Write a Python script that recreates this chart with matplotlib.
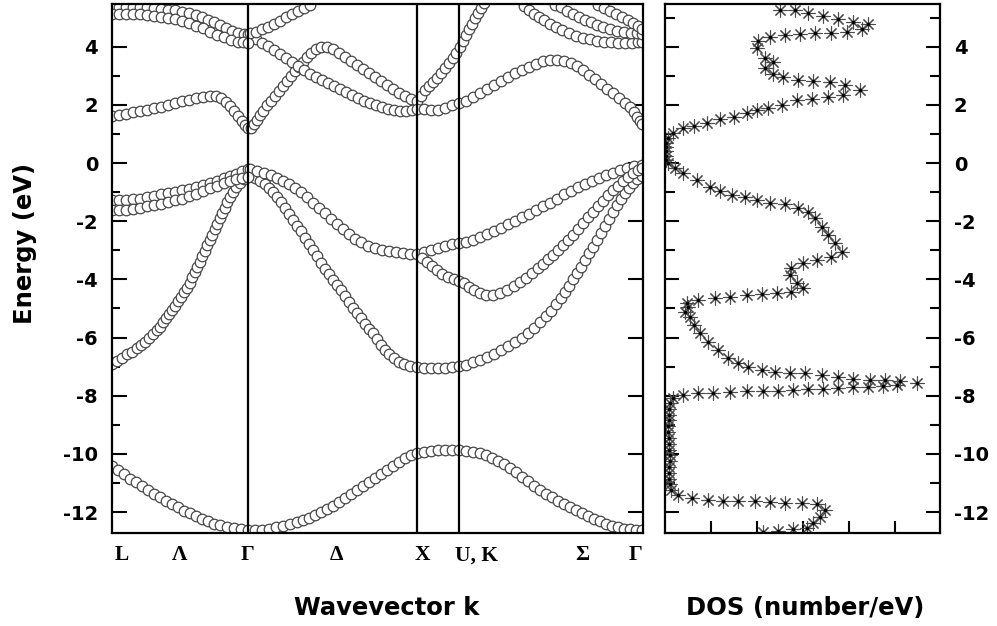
import numpy as np
import matplotlib
matplotlib.use("Agg")
import matplotlib.pyplot as plt
from matplotlib.ticker import MultipleLocator
from matplotlib.transforms import blended_transform_factory

plt.rcParams.update({
    "font.family": "DejaVu Sans",
    "font.weight": "bold",
    "axes.unicode_minus": False,
})

# ── band structure, (k along path, E in eV); path L=0, G=136, X=305, U/K=347, G=531
band_v1 = [(0, -10.42), (6, -10.55), (12, -10.70), (18, -10.85), (24, -10.98), (30, -11.12), (36, -11.25),
           (42, -11.38), (48, -11.50), (54, -11.62), (60, -11.73), (66, -11.84), (72, -11.95), (78, -12.05),
           (84, -12.15), (90, -12.24), (96, -12.32), (102, -12.40), (108, -12.46), (115, -12.52), (122, -12.56),
           (129, -12.59), (136, -12.61),
           (143, -12.62), (150, -12.61), (157, -12.58), (164, -12.53), (171, -12.48), (178, -12.42), (185, -12.35),
           (191, -12.28), (197, -12.19), (203, -12.10), (209, -12.00), (215, -11.90), (221, -11.80), (227, -11.66),
           (233, -11.51), (239, -11.37), (245, -11.25), (251, -11.12), (257, -10.98), (263, -10.84), (269, -10.70),
           (275, -10.56), (281, -10.42), (287, -10.28), (293, -10.15), (299, -10.05), (305, -9.98),
           (312, -9.93), (319, -9.90), (326, -9.88), (333, -9.87), (340, -9.87), (347, -9.88),
           (354, -9.89), (361, -9.93), (368, -9.98), (374, -10.05), (380, -10.13), (386, -10.23), (392, -10.35),
           (398, -10.49), (404, -10.63), (410, -10.78), (416, -10.94), (422, -11.09), (428, -11.23), (434, -11.37),
           (440, -11.49), (446, -11.61), (452, -11.72), (458, -11.83), (464, -11.94), (470, -12.04), (476, -12.14),
           (482, -12.23), (488, -12.32), (494, -12.40), (500, -12.47), (506, -12.53), (512, -12.57), (518, -12.60),
           (524, -12.62), (530, -12.62)]

band_v2 = [(0, -6.92), (5, -6.80), (10, -6.69), (15, -6.58), (20, -6.48), (25, -6.37), (29, -6.26), (33, -6.14),
           (37, -6.02), (41, -5.88), (45, -5.75), (48, -5.62), (51, -5.48), (54, -5.34), (57, -5.20), (60, -5.06),
           (63, -4.91), (66, -4.76), (69, -4.60), (72, -4.44), (75, -4.28), (78, -4.11), (80.5, -3.93), (83, -3.75),
           (85.5, -3.57), (88, -3.39), (90.5, -3.20), (93, -3.02), (95.5, -2.83), (98, -2.65), (100.5, -2.46),
           (103, -2.28), (105.5, -2.09), (108, -1.90), (110.5, -1.71), (113, -1.53), (115.5, -1.35), (118, -1.17),
           (121, -0.99), (124.5, -0.83), (128, -0.69), (132, -0.56), (136, -0.47),
           (138, -0.45), (143, -0.52), (148, -0.61), (153, -0.73), (157, -0.85), (161, -0.99), (165, -1.16),
           (169, -1.35), (173, -1.55), (177, -1.75), (181, -1.95), (185, -2.15), (189, -2.35), (193, -2.56),
           (197, -2.78), (201, -2.99), (205, -3.20), (209, -3.42), (213, -3.63), (217, -3.82), (221, -4.01),
           (225, -4.19), (229, -4.37), (233, -4.57), (237, -4.77), (241, -4.98), (245, -5.17), (249, -5.34),
           (253, -5.52), (257, -5.69), (261, -5.86), (265, -6.05), (269, -6.24), (273, -6.42), (277, -6.57),
           (282, -6.72), (287, -6.83), (292, -6.92), (298, -6.97), (305, -7.00),
           (312, -7.04), (319, -7.06), (326, -7.06), (333, -7.04), (340, -7.01), (347, -6.98),
           (354, -6.93), (361, -6.85), (368, -6.76), (375, -6.66), (382, -6.55), (389, -6.43), (396, -6.30),
           (403, -6.16), (410, -6.00), (416, -5.84), (422, -5.66), (428, -5.47), (434, -5.27), (439, -5.07),
           (444, -4.86), (449, -4.64), (453, -4.43), (457, -4.22), (461, -4.00), (465, -3.78), (469, -3.56),
           (473, -3.33), (477, -3.10), (481, -2.87), (485, -2.64), (489, -2.40), (493, -2.16), (497, -1.92),
           (501, -1.68), (505, -1.45), (509, -1.23), (513, -1.02), (517, -0.84), (521, -0.68), (525, -0.55),
           (530, -0.45)]

band_v3 = [(0, -1.28), (7, -1.28), (14, -1.27), (21, -1.25), (28, -1.22), (35, -1.18), (42, -1.13), (49, -1.08),
           (56, -1.04), (63, -0.99), (70, -0.94), (77, -0.88), (84, -0.82), (91, -0.75), (98, -0.68), (105, -0.60),
           (112, -0.52), (118, -0.44), (124, -0.36), (130, -0.28), (136, -0.22),
           (138, -0.20), (145, -0.27), (152, -0.34), (159, -0.42), (165, -0.50), (171, -0.61), (177, -0.73),
           (183, -0.86), (189, -1.01), (195, -1.18), (201, -1.36), (207, -1.53), (213, -1.72), (219, -1.92),
           (225, -2.10), (231, -2.28), (237, -2.45), (243, -2.60), (249, -2.73), (256, -2.84), (263, -2.93),
           (270, -2.99), (277, -3.04), (284, -3.07), (291, -3.10), (298, -3.12), (305, -3.14),
           (312, -3.05), (319, -2.98), (326, -2.91), (333, -2.84), (340, -2.78), (347, -2.74),
           (354, -2.72), (361, -2.63), (368, -2.54), (375, -2.44), (382, -2.34), (389, -2.23), (396, -2.11),
           (403, -1.99), (410, -1.87), (417, -1.75), (424, -1.62), (431, -1.49), (438, -1.36), (445, -1.22),
           (452, -1.08), (459, -0.95), (466, -0.83), (473, -0.72), (480, -0.62), (487, -0.52), (494, -0.42),
           (501, -0.33), (508, -0.25), (515, -0.17), (522, -0.11), (530, -0.07)]

band_v4 = [(0, -1.62), (7, -1.62), (14, -1.60), (21, -1.57), (28, -1.53), (35, -1.49), (42, -1.45), (49, -1.40),
           (56, -1.34), (63, -1.28), (70, -1.22), (77, -1.14), (84, -1.05), (91, -0.96), (98, -0.87), (105, -0.78),
           (112, -0.69), (118, -0.61), (124, -0.55), (130, -0.50), (136, -0.47),
           (310, -3.25), (315, -3.40), (320, -3.55), (325, -3.68), (330, -3.80), (336, -3.91), (342, -4.00),
           (347, -4.05),
           (352, -4.12), (357, -4.26), (362, -4.38), (368, -4.47), (374, -4.53), (381, -4.54), (388, -4.48),
           (395, -4.38), (402, -4.24), (408, -4.10), (414, -3.95), (420, -3.79), (426, -3.62), (431, -3.46),
           (436, -3.31), (441, -3.16), (446, -3.00), (451, -2.83), (456, -2.65), (461, -2.46), (466, -2.26),
           (471, -2.07), (476, -1.87), (481, -1.67), (486, -1.48), (491, -1.29), (496, -1.11), (501, -0.94),
           (506, -0.78), (511, -0.62), (516, -0.47), (521, -0.34), (526, -0.24), (530, -0.17)]

band_c1 = [(0, 1.62), (7, 1.66), (14, 1.70), (21, 1.74), (28, 1.78), (35, 1.83), (42, 1.88), (49, 1.94),
           (56, 2.00), (63, 2.06), (70, 2.12), (77, 2.18), (84, 2.24), (91, 2.28), (98, 2.31), (104, 2.31),
           (109, 2.24), (114, 2.11), (118, 1.96), (122, 1.80), (126, 1.62), (130, 1.45), (133, 1.30), (136, 1.20),
           (139, 1.22), (142, 1.33), (145, 1.48), (148, 1.64), (151, 1.80), (155, 1.98), (159, 2.14), (163, 2.30),
           (167, 2.47), (171, 2.64), (175, 2.81), (179, 2.98), (183, 3.15), (187, 3.32), (191, 3.49), (195, 3.65),
           (199, 3.80), (204, 3.92), (209, 3.99), (215, 3.98), (221, 3.91), (227, 3.80), (233, 3.66), (239, 3.52),
           (245, 3.38), (251, 3.24), (257, 3.10), (263, 2.96), (269, 2.82), (275, 2.68), (281, 2.54), (287, 2.42),
           (293, 2.30), (299, 2.20), (305, 2.12),
           (309, 2.32), (313, 2.50), (317, 2.66), (321, 2.80), (325, 2.94), (329, 3.10), (333, 3.26), (337, 3.44),
           (341, 3.62), (344.5, 3.80), (348, 4.00), (351, 4.20), (354, 4.40), (357, 4.60), (360, 4.79),
           (363, 4.98), (366, 5.16), (369, 5.33), (372, 5.49)]

band_c2 = [(138, 4.36), (144, 4.26), (150, 4.14), (156, 4.02), (162, 3.89), (168, 3.76), (174, 3.62),
           (180, 3.48), (186, 3.34), (192, 3.20), (198, 3.07), (204, 2.95), (210, 2.85), (216, 2.76), (222, 2.66),
           (228, 2.56), (234, 2.45), (240, 2.34), (246, 2.24), (252, 2.14), (258, 2.05), (264, 1.98), (270, 1.92),
           (276, 1.86), (282, 1.81), (288, 1.78), (294, 1.78), (300, 1.81), (305, 1.85),
           (312, 1.85), (319, 1.82), (326, 1.84), (333, 1.90), (340, 1.98), (347, 2.05),
           (354, 2.14), (361, 2.28), (368, 2.42), (375, 2.56), (382, 2.69), (389, 2.83), (396, 2.96), (403, 3.09),
           (410, 3.21), (417, 3.32), (424, 3.42), (431, 3.50), (438, 3.55), (445, 3.56), (452, 3.52), (459, 3.44),
           (465, 3.33), (471, 3.19), (477, 3.04), (483, 2.88), (489, 2.72), (495, 2.56), (501, 2.40), (507, 2.24),
           (513, 2.08), (518, 1.92), (522, 1.76), (525, 1.60), (528, 1.46), (530, 1.35)]

band_c3 = [(0, 5.36), (7, 5.37), (14, 5.37), (21, 5.37), (28, 5.36), (35, 5.35), (42, 5.33), (49, 5.31),
           (56, 5.28), (63, 5.25), (70, 5.21), (77, 5.16), (84, 5.10), (90, 5.02), (96, 4.93), (102, 4.84),
           (108, 4.74), (114, 4.63), (120, 4.54), (126, 4.47), (132, 4.44), (136, 4.43),
           (138, 4.46), (144, 4.52), (150, 4.60), (156, 4.69), (162, 4.79), (168, 4.90), (174, 5.01), (180, 5.12),
           (186, 5.23), (192, 5.34), (198, 5.45)]

band_c4 = [(0, 5.14), (7, 5.14), (14, 5.13), (21, 5.12), (28, 5.11), (35, 5.09), (42, 5.06), (49, 5.03),
           (56, 4.99), (63, 4.94), (70, 4.88), (77, 4.81), (84, 4.73), (91, 4.63), (98, 4.52), (105, 4.42),
           (112, 4.32), (119, 4.24), (126, 4.18), (131, 4.15), (136, 4.14)]

band_c5 = [(412, 5.40), (417, 5.27), (422, 5.14), (427, 5.02), (432, 4.91), (438, 4.79), (444, 4.67), (450, 4.56),
           (457, 4.46), (464, 4.38), (471, 4.31), (478, 4.25), (485, 4.20), (492, 4.17), (499, 4.15), (506, 4.14),
           (513, 4.14), (520, 4.14), (526, 4.15), (530, 4.17)]

band_c6 = [(443, 5.45), (449, 5.35), (455, 5.24), (461, 5.14), (467, 5.03), (473, 4.93), (479, 4.84), (485, 4.76),
           (491, 4.68), (498, 4.61), (505, 4.55), (512, 4.51), (519, 4.48), (525, 4.46), (530, 4.45)]

band_c7 = [(486, 5.42), (492, 5.33), (498, 5.24), (504, 5.14), (510, 5.04), (516, 4.93), (521, 4.82),
           (526, 4.71), (530, 4.62)]

# ── density of states, (DOS, E)
dos_pts = [(2.50, 5.26), (2.83, 5.28), (3.12, 5.17), (3.44, 5.05), (3.77, 4.94), (4.09, 4.86), (4.42, 4.78),
           (4.28, 4.60), (3.95, 4.52), (3.62, 4.46), (3.26, 4.46), (2.93, 4.44), (2.61, 4.40), (2.28, 4.32),
           (2.03, 4.21), (2.01, 3.94), (2.17, 3.63), (2.35, 3.48), (2.17, 3.26), (2.35, 3.06), (2.57, 2.95),
           (2.90, 2.85), (3.22, 2.82), (3.59, 2.80), (3.91, 2.68), (4.24, 2.51), (3.88, 2.34), (3.55, 2.28),
           (3.19, 2.20), (2.86, 2.17), (2.54, 1.99), (2.25, 1.91), (1.99, 1.82), (1.78, 1.71), (1.49, 1.59),
           (1.20, 1.50), (0.91, 1.39), (0.62, 1.27), (0.40, 1.19), (0.18, 1.02), (0.07, 0.85), (0.03, 0.70),
           (0.02, 0.55), (0.02, 0.40), (0.02, 0.25), (0.03, 0.10), (0.07, -0.01), (0.22, -0.18), (0.40, -0.35),
           (0.69, -0.58), (0.98, -0.81), (1.20, -0.95), (1.45, -1.10), (1.74, -1.18), (1.99, -1.27), (2.28, -1.36),
           (2.61, -1.41), (2.90, -1.56), (3.12, -1.67), (3.26, -1.90), (3.41, -2.19), (3.55, -2.48), (3.70, -2.76),
           (3.84, -3.05), (3.62, -3.22), (3.30, -3.34), (3.01, -3.45), (2.75, -3.62), (2.72, -3.85), (2.86, -4.14),
           (3.01, -4.31), (2.75, -4.43), (2.43, -4.48), (2.10, -4.51), (1.78, -4.54), (1.41, -4.60), (1.09, -4.65),
           (0.72, -4.71), (0.47, -4.82), (0.51, -4.94), (0.43, -5.11), (0.54, -5.29), (0.62, -5.57), (0.76, -5.86),
           (0.94, -6.15), (1.16, -6.43), (1.38, -6.72), (1.59, -6.89), (1.81, -7.00), (2.10, -7.12), (2.39, -7.18),
           (2.72, -7.21), (3.04, -7.23), (3.41, -7.29), (3.77, -7.37), (4.09, -7.44), (4.46, -7.46), (4.78, -7.46),
           (5.11, -7.49), (5.47, -7.55), (5.04, -7.63), (4.75, -7.67), (4.42, -7.69), (4.09, -7.71), (3.77, -7.75),
           (3.44, -7.77), (3.12, -7.78), (2.79, -7.81), (2.46, -7.83), (2.14, -7.83), (1.78, -7.84), (1.41, -7.86),
           (1.05, -7.89), (0.72, -7.92), (0.40, -7.98), (0.18, -8.09), (0.11, -8.26), (0.09, -8.45), (0.08, -8.65),
           (0.08, -8.85), (0.07, -9.05), (0.07, -9.25), (0.08, -9.45), (0.08, -9.65), (0.09, -9.85), (0.10, -10.05),
           (0.10, -10.25), (0.09, -10.45), (0.08, -10.65), (0.08, -10.85), (0.10, -11.05), (0.14, -11.24),
           (0.29, -11.42), (0.58, -11.53), (0.94, -11.59), (1.27, -11.61), (1.59, -11.61), (1.96, -11.62),
           (2.28, -11.65), (2.61, -11.68), (2.97, -11.70), (3.30, -11.73), (3.48, -11.93), (3.37, -12.16),
           (3.22, -12.39), (3.08, -12.56), (2.79, -12.60), (2.46, -12.64), (2.14, -12.70)]

BANDS = [band_v1, band_v2, band_v3, band_v4, band_c1, band_c2, band_c3, band_c4, band_c5, band_c6, band_c7]
SYMM_K = [136, 305, 347]                       # vertical lines at Gamma, X, U/K
KLABELS = ["L", "Λ", "Γ", "Δ", "X", "U, K", "Σ", "Γ"]
KLABEL_POS = [10, 68, 135, 225, 310, 365, 470, 523]
E_LIM = (-12.72, 5.47)

fig = plt.figure(figsize=(9.97, 6.26), dpi=100)
ax = fig.add_axes([0.1123, 0.1486, 0.5326, 0.8450])
ax2 = fig.add_axes([0.6670, 0.1486, 0.2758, 0.8450])

# ── band panel
for band in BANDS:
    k, e = np.array(band).T
    ax.plot(k, e, ls="none", marker="o", ms=7.6, mfc="white", mec="#474747", mew=0.9)
for kv in SYMM_K:
    ax.axvline(kv, color="black", lw=1.6, zorder=3)

ax.set_xlim(0, 531)
ax.set_ylim(*E_LIM)
ax.set_xticks([])
ax.yaxis.set_major_locator(MultipleLocator(2))
ax.yaxis.set_minor_locator(MultipleLocator(1))
ax.tick_params(axis="y", which="major", direction="in", length=11, width=1.5,
               labelsize=14, pad=10, left=True, right=True)
ax.tick_params(axis="y", which="minor", direction="in", length=5.5, width=1.5,
               left=True, right=False)
for sp in ax.spines.values():
    sp.set_linewidth(1.6)

trans = blended_transform_factory(ax.transData, ax.transAxes)
for lab, pos in zip(KLABELS, KLABEL_POS):
    ax.text(pos, -0.042, lab, transform=trans, ha="center", va="center",
            fontsize=15.5, fontweight="bold", family="Liberation Serif")

# ── DOS panel
d, e = np.array(dos_pts).T
ax2.plot(d, e, ls="none", marker=(8, 2, 0), ms=10, mec="#4a4a4a", mew=0.8)
ax2.plot(d, e, ls="none", marker=".", ms=3, color="black")
ax2.set_xlim(0, 5.98)
ax2.set_ylim(*E_LIM)
ax2.set_xticks([1, 2, 3, 4, 5])
ax2.tick_params(axis="x", direction="in", length=9, width=1.5, labelbottom=False)
ax2.yaxis.set_major_locator(MultipleLocator(2))
ax2.yaxis.set_minor_locator(MultipleLocator(1))
ax2.tick_params(axis="y", which="major", direction="in", length=10, width=1.5, labelsize=14, pad=10,
                left=True, right=True, labelleft=False, labelright=True)
ax2.tick_params(axis="y", which="minor", direction="in", length=7, width=1.5, left=True, right=True)
for sp in ax2.spines.values():
    sp.set_linewidth(1.6)

fig.text(25.5 / 997, 1 - 243 / 626, "Energy (eV)", rotation=90, ha="center", va="center",
         fontsize=17.5, fontweight="bold")
fig.text(387 / 997, 1 - 615 / 626, "Wavevector k", ha="center", va="baseline",
         fontsize=17.5, fontweight="bold")
fig.text(805 / 997, 1 - 615 / 626, "DOS (number/eV)", ha="center", va="baseline",
         fontsize=17.5, fontweight="bold")

fig.savefig("out.png", dpi=100)
